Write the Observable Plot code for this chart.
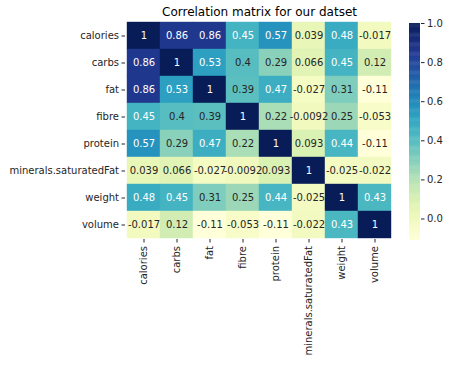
<!DOCTYPE html>
<html>
<head>
<meta charset="utf-8">
<script src="https://cdn.jsdelivr.net/npm/d3@7"></script>
<script src="https://cdn.jsdelivr.net/npm/@observablehq/plot@0.6"></script>
<style>
  body { margin: 0; background: white; }
  #wrap { display: flex; width: 450px; height: 365px; }
</style>
</head>
<body>
<div id="wrap"></div>
<script>
const names = ["calories", "carbs", "fat", "fibre", "protein", "minerals.saturatedFat", "weight", "volume"];
const calories = [1, 0.86, 0.86, 0.45, 0.57, 0.039, 0.48, -0.017];
const carbs    = [0.86, 1, 0.53, 0.4, 0.29, 0.066, 0.45, 0.12];
const fat      = [0.86, 0.53, 1, 0.39, 0.47, -0.027, 0.31, -0.11];
const fibre    = [0.45, 0.4, 0.39, 1, 0.22, -0.0092, 0.25, -0.053];
const protein  = [0.57, 0.29, 0.47, 0.22, 1, 0.093, 0.44, -0.11];
const mineralsSaturatedFat = [0.039, 0.066, -0.027, -0.0092, 0.093, 1, -0.025, -0.022];
const weight   = [0.48, 0.45, 0.31, 0.25, 0.44, -0.025, 1, 0.43];
const volume   = [-0.017, 0.12, -0.11, -0.053, -0.11, -0.022, 0.43, 1];
const rows = [calories, carbs, fat, fibre, protein, mineralsSaturatedFat, weight, volume];
const colorbarTicks = [0, 0.2, 0.4, 0.6, 0.8, 1.0];
const title = "Correlation matrix for our datset";

const vmin = -0.11, vmax = 1;
const table = [];
rows.forEach((r, i) => r.forEach((v, j) => table.push({row: names[i], col: names[j], value: v})));

const colorOpts = {type: "linear", domain: [vmin, vmax], scheme: "YlGnBu"};
const colorFn = v => d3.interpolateYlGnBu((v - vmin) / (vmax - vmin));
function lum(c) {
  const rgb = d3.rgb(c);
  const f = x => { x /= 255; return x <= 0.03928 ? x / 12.92 : Math.pow((x + 0.055) / 1.055, 2.4); };
  return 0.2126 * f(rgb.r) + 0.7152 * f(rgb.g) + 0.0722 * f(rgb.b);
}
const textColor = d => lum(colorFn(d.value)) > 0.408 ? "#262626" : "white";

const font = "'DejaVu Sans', sans-serif";

const main = Plot.plot({
  width: 400, height: 365,
  marginLeft: 125, marginRight: 7, marginTop: 21, marginBottom: 126,
  style: {fontFamily: font, fontSize: "10px", color: "#262626", background: "white"},
  x: {domain: names, padding: 0, label: null, tickRotate: -90, tickSize: 3.5, tickPadding: 3},
  y: {domain: names, padding: 0, label: null, tickSize: 3.5, tickPadding: 3},
  color: colorOpts,
  marks: [
    Plot.cell(table, {x: "col", y: "row", fill: "value", stroke: "value", strokeWidth: 0.4}),
    Plot.text(table, {x: "col", y: "row", text: d => String(d.value), fill: textColor, fontSize: 10}),
    Plot.text([title], {frameAnchor: "top", lineAnchor: "middle", dy: -9, text: d => d, fontSize: 12, fill: "black"})
  ]
});

const step = (vmax - vmin) / 240;
const strips = d3.range(vmin, vmax - step / 2, step);
const bar = Plot.plot({
  width: 50, height: 365,
  marginLeft: 9, marginRight: 30, marginTop: 23, marginBottom: 125,
  style: {fontFamily: font, fontSize: "10px", color: "#262626", background: "white"},
  x: {domain: [0, 1], axis: null},
  y: {domain: [vmin, vmax], axis: "right", ticks: colorbarTicks, tickFormat: d3.format(".1f"), tickSize: 3.5, tickPadding: 3, label: null},
  color: colorOpts,
  marks: [
    Plot.rect(strips, {x1: 0, x2: 1, y1: d => d, y2: d => Math.min(vmax, d + step * 1.5), fill: d => d + step / 2})
  ]
});

document.getElementById("wrap").append(main, bar);
</script>
</body>
</html>
